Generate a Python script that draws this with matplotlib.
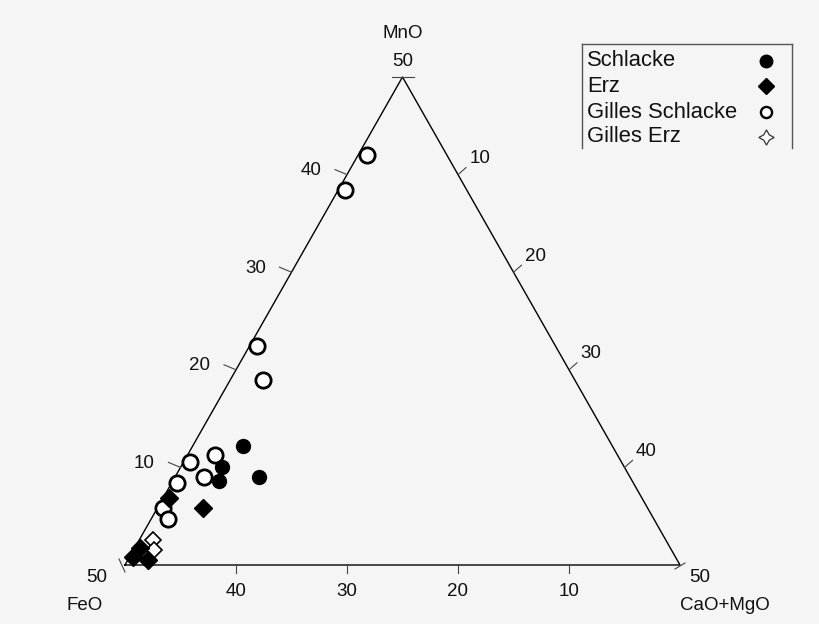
import matplotlib.pyplot as plt
from matplotlib.lines import Line2D
from matplotlib.transforms import offset_copy

plt.rcParams['font.family'] = ['Liberation Sans', 'DejaVu Sans']

# ternary scale: the three corners are 50 each
SCALE = 50
tick_values = [10, 20, 30, 40]

# data: MnO and CaO+MgO (FeO = 50 - MnO - CaO+MgO)
schlacke_mno = [12.2, 10.0, 8.6, 9.0]
schlacke_cao = [4.5, 3.7, 4.2, 7.6]

erz_mno = [6.9, 5.8, 0.8, 1.7, 0.5]
erz_cao = [0.5, 4.1, 0.3, 0.5, 1.8]

gilles_schlacke_mno = [42.0, 38.4, 22.4, 19.0, 11.3, 10.6, 9.0, 8.4, 5.8, 4.7]
gilles_schlacke_cao = [0.8, 0.6, 0.7, 2.9, 2.5, 0.6, 2.6, 0.5, 0.5, 1.5]

gilles_erz_mno = [2.6, 1.5]
gilles_erz_cao = [1.2, 1.9]

legend_labels = ['Schlacke', 'Erz', 'Gilles Schlacke', 'Gilles Erz']


def tern(mno, cao):
    y = [m / SCALE for m in mno]
    x = [c / SCALE + yy / 2 for c, yy in zip(cao, y)]
    return x, y


BG = '#f5f5f5'
fig = plt.figure(figsize=(8.2, 6.24), dpi=100, facecolor=BG)
ax = fig.add_axes([125 / 820, 59 / 624, 555 / 820, 488 / 624])
ax.set_xlim(0, 1)
ax.set_ylim(0, 1)
ax.axis('off')

# pixel -> data units
px = 1 / 555
py = 1 / 488

# triangle outline
cx, cy = tern([0, 0, SCALE, 0], [0, SCALE, 0, 0])
ax.plot(cx, cy, color='black', lw=1.0, clip_on=False)


def label(x, y, s, dx, dy, size=13.5):
    tr = offset_copy(ax.transData, fig=fig, x=dx, y=dy, units='dots')
    ax.text(x, y, s, transform=tr, ha='center', va='center',
            fontsize=size, color='#111111', clip_on=False)


tick_kw = dict(color='#444444', lw=0.8, clip_on=False)
for v in tick_values:
    # bottom axis (FeO), ticks downward
    bx, by = tern([0], [SCALE - v])
    ax.plot([bx[0], bx[0]], [0, -8 * py], **tick_kw)
    label(bx[0], 0, str(v), 0, -27)
    # left edge (MnO)
    lx, ly = tern([v], [0])
    ax.plot([lx[0], lx[0] - 12 * px], [ly[0], ly[0] + 5 * py], **tick_kw)
    label(lx[0], ly[0], str(v), -36, 4)
    # right edge (CaO+MgO)
    rx, ry = tern([SCALE - v], [v])
    ax.plot([rx[0], rx[0] + 8 * px], [ry[0], ry[0] + 7 * py], **tick_kw)
    label(rx[0], ry[0], str(v), 22, 16)

# corner ticks
ax.plot([0.5 - 11 * px, 0.5 + 11 * px], [1, 1], **tick_kw)
ax.plot([-6 * px, 0], [6 * py, -7 * py], **tick_kw)
ax.plot([1 - 5 * px, 1 + 5 * px], [-4 * py, 2 * py], **tick_kw)

label(0.5, 1, '50', 0, 15)
label(0, 0, '50', -28, -13)
label(1, 0, '50', 20, -13)
label(0.5, 1, 'MnO', 0, 44)
label(0, 0, 'FeO', -40, -40)
label(1, 0, 'CaO+MgO', 45, -40)

# data
x, y = tern(gilles_schlacke_mno, gilles_schlacke_cao)
ax.plot(x, y, 'o', ms=11, mfc='white', mec='black', mew=2.0, ls='none', clip_on=False)
x, y = tern(gilles_erz_mno, gilles_erz_cao)
ax.plot(x, y, 'D', ms=8.5, mfc='white', mec='black', mew=1.2, ls='none', clip_on=False)
x, y = tern(erz_mno, erz_cao)
ax.plot(x, y, 'D', ms=9, color='black', ls='none', clip_on=False)
x, y = tern(schlacke_mno, schlacke_cao)
ax.plot(x, y, 'o', ms=10, color='black', ls='none', clip_on=False)

# legend box (open at the bottom)
W, H = 820, 624
for xs, ys in [([582, 582], [44, 148]), ([792, 792], [44, 148]), ([582, 792], [44, 44])]:
    fig.add_artist(Line2D([v / W for v in xs], [1 - v / H for v in ys],
                          color='#555555', lw=1.0))

rows = [61, 86, 112, 137]
styles = [
    dict(marker='o', ms=9, mfc='black', mec='black'),
    dict(marker='D', ms=8, mfc='black', mec='black'),
    dict(marker='o', ms=8, mfc='white', mec='black', mew=1.7),
    dict(marker=(4, 1, 0), ms=11, mfc='white', mec='#333333', mew=0.9),
]
for r, lab, st in zip(rows, legend_labels, styles):
    fig.text(587 / W, 1 - r / H, lab, ha='left', va='center', fontsize=15.8, color='#111111')
    fig.add_artist(Line2D([766 / W], [1 - r / H], ls='none', **st))

fig.savefig('out.png', dpi=100, facecolor=BG)
